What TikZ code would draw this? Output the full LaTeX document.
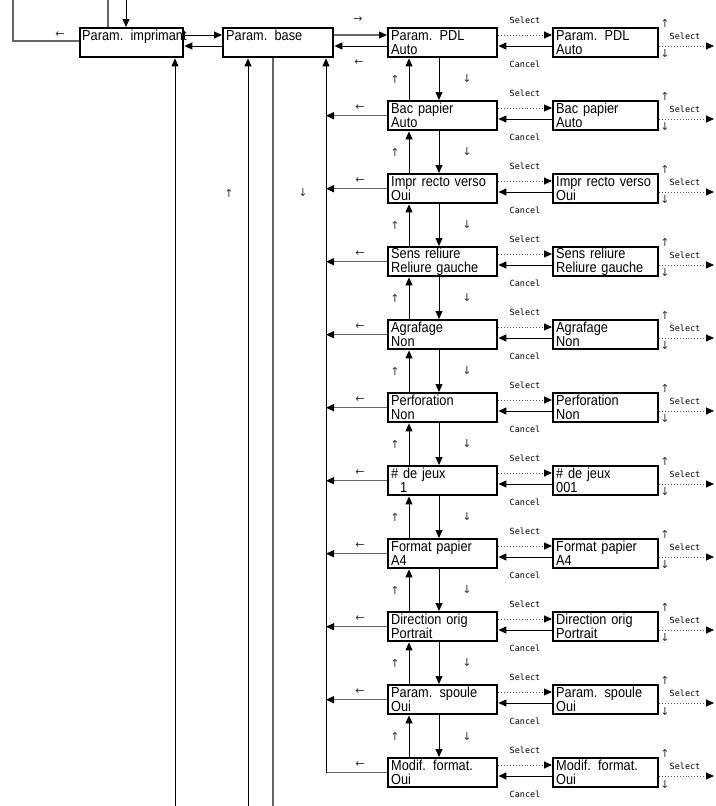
\documentclass[tikz,border=0pt]{standalone}
\usepackage{fontspec}
\setmainfont{Liberation Sans}[FakeStretch=0.88]
\newfontfamily\lblfont{DejaVu Sans Mono}
\newfontfamily\symfont{DejaVu Sans}
\usetikzlibrary{arrows.meta}
\tikzset{
  mbox/.style={draw, line width=2.4pt, minimum height=29pt, inner ysep=0pt, inner xsep=3pt,
    text width=#1, align=left, anchor=north west, font=\fontsize{14.5}{14}\selectfont},
  arr/.style={line width=1pt, -{Triangle[length=8pt,width=7pt,color=black]}},
  garr/.style={arr, draw=black!60, line width=1.2pt},
  gline/.style={draw=black!60, line width=1.2pt},
  darr/.style={dotted, line width=0.9pt, draw=black!65, -{Triangle[length=8pt,width=7pt,color=black]}},
  sym/.style={font=\symfont\fontsize{11}{11}\selectfont, inner sep=0pt, text=black!80},
  lbl/.style={font=\lblfont\fontsize{8.5}{9}\selectfont, inner sep=0pt},
}
\begin{document}
\begin{tikzpicture}[x=1pt,y=-1pt]
\useasboundingbox (0,0) rectangle (715,806);

% top boxes
\node[mbox=99pt, inner xsep=2pt] (imp) at (79,27) {\mbox{Param. imprimant}\\\mbox{}};
\node[mbox=104pt] (base) at (222,27) {\mbox{Param. base}\\\mbox{}};

% coordinates
\coordinate (t1) at (108,0);
\coordinate (t2) at (126,0);
\coordinate (l1) at (13,0);
\coordinate (y35) at (0,35);
\coordinate (y41) at (0,41);
\coordinate (y46) at (0,46);
\coordinate (bus) at (326,0);
\coordinate (vu) at (409,0);
\coordinate (vd) at (439,0);
\coordinate (b1) at (175,806);
\coordinate (b2) at (248,806);
\coordinate (b3) at (273,806);

% rows
\foreach \a/\b/\c [count=\k from 0] in {Param. PDL/Auto/Auto, Bac papier/Auto/Auto,
  Impr recto verso/Oui/Oui, Sens reliure/Reliure gauche/Reliure gauche,
  Agrafage/Non/Non, Perforation/Non/Non, \# de jeux/\hspace*{9pt}1/001,
  Format papier/A4/A4, Direction orig/Portrait/Portrait,
  Param. spoule/Oui/Oui, Modif. format./Oui/Oui}{
  \pgfmathsetmacro\T{27+73*\k}
  \node[mbox=103pt] (r\k) at (387,\T) {\mbox{\a}\\\mbox{\b}};
  \node[mbox=99pt] (s\k) at (552,\T) {\mbox{\a}\\\mbox{\c}};
}

% top connectors
\draw[gline] (t1) -- (t1 |- imp.north);
\draw[arr] (t2) -- (t2 |- imp.north);
\draw[gline] (imp.west |- y41) -- (l1 |- y41) -- (l1);
\node[sym] (la) at (60,35) {←};
\draw[arr] (imp.east |- y35) -- (base.west |- y35);
\draw[arr] (base.west |- y46) -- (imp.east |- y46);
\draw[garr] (base.east |- y35) -- (r0.west |- y35);
\draw[arr] (r0.west |- y46) -- (base.east |- y46);
\node[sym] (lb) at (358,20) {→};
\node[sym] (lc) at (359,63) {←};

% bottom verticals
\draw[arr] (b1) -- (b1 |- imp.south);
\draw[arr] (b2) -- (b2 |- base.south);
\draw[gline] (b3 |- base.south) -- (b3);
\node[sym] (ld) at (229,193) {↑};
\node[sym] (le) at (303,193) {↓};

% bus
\draw[gline] (r10.west) -- (r10.west -| bus);
\draw[arr] (r10.west -| bus) -- (bus |- base.south);
\node[sym] (lf) at (360,765) {←};

\foreach \k in {0,...,10}{
  \pgfmathsetmacro\T{27+73*\k}
  \pgfmathsetmacro\ya{\T+8}
  \pgfmathsetmacro\yb{\T+19}
  \coordinate (ya\k) at (0,\ya);
  \coordinate (yb\k) at (0,\yb);
  \coordinate (e\k) at (714,\yb);
  \draw[darr] (r\k.east |- ya\k) -- (s\k.west |- ya\k);
  \draw[arr] (s\k.west |- yb\k) -- (r\k.east |- yb\k);
  \draw[darr] (s\k.east |- yb\k) -- (e\k);
  \node[lbl] (sel\k) at (525,\T-7) {Select};
  \node[lbl] (can\k) at (525,\T+37) {Cancel};
  \node[sym] (up\k) at (665,\T-4) {↑};
  \node[sym] (dn\k) at (665,\T+27) {↓};
  \node[lbl] (rsel\k) at (685,\T+9) {Select};
}
\foreach \k in {1,...,9}{
  \pgfmathsetmacro\T{27+73*\k}
  \draw[garr] (r\k.west) -- (r\k.west -| bus);
  \node[sym] (lw\k) at (360,\T+8) {←};
}
\foreach \k in {0,...,9}{
  \pgfmathsetmacro\T{27+73*\k}
  \pgfmathtruncatemacro\n{\k+1}
  \draw[arr] (r\n.north -| vu) -- (r\k.south -| vu);
  \draw[arr] (r\k.south -| vd) -- (r\n.north -| vd);
  \node[sym] (vua\k) at (395,\T+52) {↑};
  \node[sym] (vda\k) at (467,\T+52) {↓};
}
\end{tikzpicture}
\end{document}
